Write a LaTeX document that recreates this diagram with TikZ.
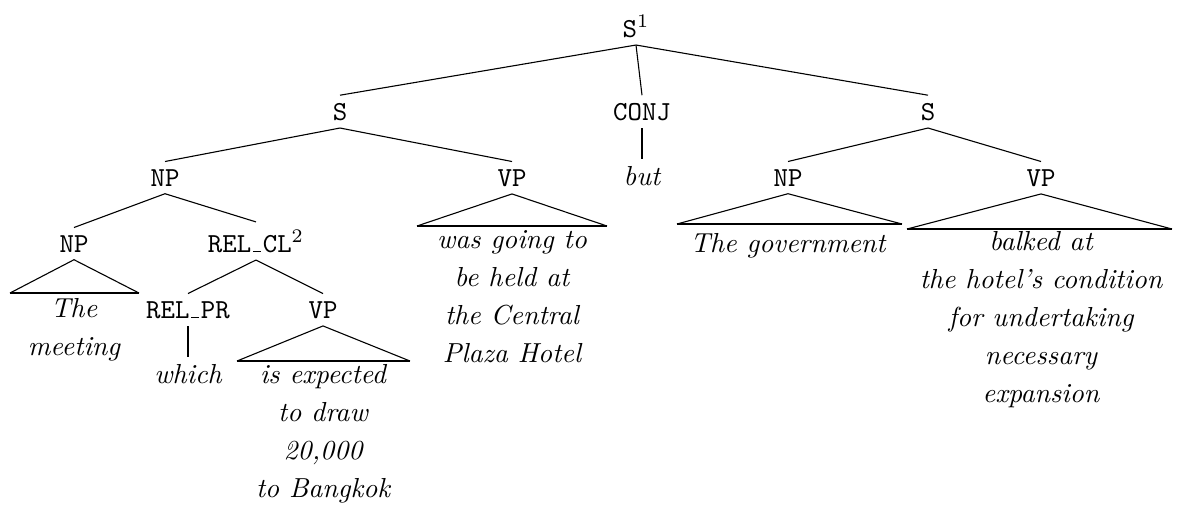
\documentclass[tikz,border=0pt]{standalone}
\newcommand\lowbar{\leavevmode\kern.06em\vbox{\hrule width .3em height .45pt}\kern.06em}
\begin{document}
\begin{tikzpicture}[x=0.3636pt,y=-0.3636pt,
  lab/.style={font=\ttfamily\fontsize{10}{12}\selectfont, inner xsep=1pt, inner ysep=2.6pt, anchor=base},
  leaf/.style={font=\fontsize{10}{13.8}\selectfont\itshape, align=center, inner sep=0pt, anchor=north},
  word/.style={font=\fontsize{10}{13.8}\selectfont\itshape, inner xsep=0pt, inner ysep=2.4pt, anchor=north},
  br/.style={line width=0.4pt},
  tbase/.style={line width=0.8pt},
  vert/.style={line width=0.6pt}]
\useasboundingbox (0,0) rectangle (1204,506);
% labels
\node[lab] (s1) at (636,37) {S$^1$};
\node[lab] (sl) at (340,120) {S};
\node[lab] (conj) at (642,120) {CONJ};
\node[lab] (sr) at (928,120) {S};
\node[lab] (npl) at (165,186) {NP};
\node[lab] (vpm) at (512,186) {VP};
\node[lab] (npr) at (788,186) {NP};
\node[lab] (vpr) at (1041,186) {VP};
\node[lab] (np4) at (74,252) {NP};
\node[lab] (rcl) at (256,252) {REL\lowbar CL$^2$};
\node[lab] (rpr) at (188,318) {REL\lowbar PR};
\node[lab] (vp5) at (323,318) {VP};
% leaves
\node[word] (but) at (642,159) {\rule{0pt}{7pt}but};
\node[word] (which) at (188,357) {\rule{0pt}{7pt}which};
\node[leaf] (lmeet) at (74,297.75) {\rule{0pt}{7pt}The\\meeting};
\node[leaf] (lexp) at (323,363.75) {\rule{0pt}{7pt}is expected\\to draw\\20,000\\to Bangkok};
\node[leaf] (lwas) at (512,228.75) {\rule{0pt}{7pt}was going to\\be held at\\the Central\\Plaza Hotel};
\node[leaf] (lgov) at (788,232.75) {\rule{0pt}{7pt}The government};
\node[leaf] (lbalk) at (1041,230.75) {\rule{0pt}{7pt}balked at\\the hotel's condition\\for undertaking\\necessary\\expansion};
% triangle corners
\coordinate (t1l) at (10,293); \coordinate (t1r) at (139,293);
\coordinate (t2l) at (237,361); \coordinate (t2r) at (410,361);
\coordinate (t3l) at (417,226); \coordinate (t3r) at (607,226);
\coordinate (t4l) at (677,224); \coordinate (t4r) at (902,224);
\coordinate (t5l) at (907,229); \coordinate (t5r) at (1172,229);
% branches
\draw[br] (s1.south) -- (sl.north);
\draw[br] (s1.south) -- (conj.north);
\draw[br] (s1.south) -- (sr.north);
\draw[br] (sl.south) -- (npl.north);
\draw[br] (sl.south) -- (vpm.north);
\draw[br] (sr.south) -- (npr.north);
\draw[br] (sr.south) -- (vpr.north);
\draw[br] (npl.south) -- (np4.north);
\draw[br] (npl.south) -- (rcl.north);
\draw[br] (rcl.south) -- (rpr.north);
\draw[br] (rcl.south) -- (vp5.north);
\draw[vert] (conj.south) -- (but.north);
\draw[vert] (rpr.south) -- (which.north);
% triangles
\draw[br] (t1l) -- (np4.south) -- (t1r); \draw[tbase] (t1l) -- (t1r);
\draw[br] (t2l) -- (vp5.south) -- (t2r); \draw[tbase] (t2l) -- (t2r);
\draw[br] (t3l) -- (vpm.south) -- (t3r); \draw[tbase] (t3l) -- (t3r);
\draw[br] (t4l) -- (npr.south) -- (t4r); \draw[tbase] (t4l) -- (t4r);
\draw[br] (t5l) -- (vpr.south) -- (t5r); \draw[tbase] (t5l) -- (t5r);
\end{tikzpicture}
\end{document}
